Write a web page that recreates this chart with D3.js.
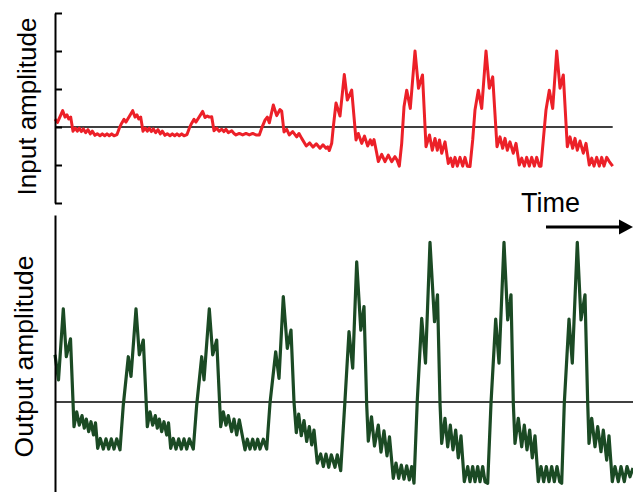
<!DOCTYPE html>
<html>
<head>
<meta charset="utf-8">
<script src="https://cdn.jsdelivr.net/npm/d3@7"></script>
<style>
  html, body { margin: 0; padding: 0; background: #fff; }
  svg { display: block; }
  text { font-family: "Liberation Sans", Arial, Helvetica, sans-serif; fill: #000; }
</style>
</head>
<body>
<svg id="chart" width="633" height="492"></svg>
<script>
// Input waveform: time (samples) and amplitude (a.u., 10 per tick)
const inputTime = [
  0, 2.5, 7.7, 10, 12, 13.7, 15.7, 18, 20.3, 22.3, 24.3, 26.3, 28.3, 30.7, 33, 35.3, 37.3, 40, 42.3, 45, 47.3, 49.7, 52, 54.3, 56.7, 59, 62,
  64.3, 66.7, 69, 71, 77.7, 80, 82, 83.7, 85.7, 88, 90.3, 92.3, 94.3, 96.3, 98.3, 100.7, 103, 105.3, 107.3, 110, 112.3, 115, 117.3, 119.7, 122, 124.3, 126.7, 129, 132,
  134.3, 136.7, 139, 141, 147.7, 150, 152.3, 154.3, 156.7, 159, 161.7, 164, 166.7, 169, 171, 173.3, 176.7, 179, 181, 184.3, 187.7, 191, 194.3, 197.7, 201, 204.3,
  206.7, 210, 212.3, 214.3, 218.3, 221.7, 225, 226.7, 229, 231.7, 234.3, 237.7, 241.7, 244, 246.7, 251.3, 254.7, 258, 261.3, 265, 268, 271, 272.7, 274.3,
  276.7, 278.3, 281, 285, 289.3, 292.3, 296.7, 301, 303.3, 306.7, 309.5, 312.7, 315.3, 317, 319, 321.5, 323.3, 326.7, 330, 333.3, 336.7, 340, 342, 344.3,
  346.7, 349, 351.7, 355.3, 360, 363.5, 367.5, 371, 374.5, 377.3, 380, 382.3, 384.5, 386.7, 390, 393.3, 395.7, 397.7, 400, 402.3, 405, 407.7, 410, 412.3, 415,
  417.7, 420, 423.3, 426.7, 431, 434.3, 437.7, 442, 445, 447.7, 450, 452.3, 455, 458.3, 461, 464.3, 466.7, 469.3, 471.7, 474.3, 476.7, 479.3, 481.7, 484.3, 486,
  488.3, 491, 494.3, 497.7, 501.7, 505, 508.3, 512.3, 515, 517.7, 520, 522.3, 525, 528.3, 531, 534.3, 536.7, 539, 541.7, 544.3, 546.7, 549, 551.7, 554.3, 557.7
];
const inputAmp = [
  2.1, 1.2, 4.3, 2.6, 3.2, 2.1, 2.6, -1.1, -0.3, -1.1, -0.3, -1.2, -0.5, -1.5, -0.7, -1.8, -1.1, -2.2, -1.8, -2.3, -1.8, -2.3, -1.8, -2.3, -1.8, -2.3, -2.0,
  -0.3, 1.0, 2.0, 1.3, 4.3, 2.6, 3.2, 2.1, 2.6, -1.1, -0.3, -1.1, -0.3, -1.2, -0.5, -1.5, -0.7, -1.8, -1.1, -2.2, -1.8, -2.3, -1.8, -2.3, -1.8, -2.3, -1.8, -2.3, -2.0,
  -0.3, 1.0, 2.0, 1.3, 4.1, 2.5, 2.9, 2.6, 2.7, -1.0, -0.3, -1.1, -0.6, -1.2, -0.6, -1.5, -1.0, -1.7, -2.1, -1.7, -2.1, -1.7, -2.1, -1.7, -2.1, -2.1,
  -0.3, 1.8, 2.6, 1.1, 5.8, 3.0, 4.6, 4.2, -1.3, -0.6, -2.1, -1.2, -2.6, -1.7, -3.0, -5.0, -4.2, -5.3, -4.4, -5.6, -4.7, -5.6, -5.2, -6.2,
  -4.3, 0, 6.3, 2.9, 13.8, 7.1, 9.7, -3.4, -1.7, -4.3, -2.4, -5.0, -3.4, -4.7, -3.3, -6.6, -9.1, -7.2, -9.1, -7.4, -9.1, -7.8, -8.7, -10.3,
  -4.3, 5.3, 9.7, 4.9, 20.0, 10.2, 13.7, -5.2, -2.1, -6.1, -3.0, -6.1, -3.4, -6.9, -3.9, -9.6, -8.2, -10.4, -8.0, -10.3, -8.0, -10.3, -8.0, -10.3, -10.4,
  -3.4, 4.5, 9.7, 4.9, 20.0, 10.2, 13.2, -5.2, -2.6, -5.6, -3.0, -6.1, -3.9, -6.9, -4.3, -10.0, -8.2, -10.3, -8.0, -10.3, -8.0, -10.3, -8.0, -10.3, -10.3,
  -3.4, 4.5, 9.7, 4.9, 20.0, 10.2, 13.7, -5.2, -2.6, -5.6, -3.0, -6.1, -3.7, -6.9, -4.3, -10.0, -8.2, -10.3, -8.0, -10.3, -8.0, -10.3, -8.0, -9.1, -10.3
];

// Output waveform: time (samples) and amplitude (same units)
const outputTime = [
  0, 3.5, 8.3, 11.3, 15.5, 19, 21.7, 24.3, 27, 29.3, 31.3, 33.7, 36, 38.5, 40.5, 42.7, 45.3, 48.3, 51, 53.7, 56.3, 59, 61.7, 65,
  68.3, 73.3, 76, 81, 84.3, 88.3, 92.3, 95, 97.7, 100.3, 102.3, 104.3, 106.7, 109, 111.7, 113.5, 115.7, 118.3, 121, 123.7, 126.3, 129, 131.7, 134.3, 138.3,
  141.7, 146.7, 149, 154.3, 157.7, 161.7, 165.7, 168.3, 171, 173.3, 176.7, 179, 181.7, 184.3, 190, 192.3, 195, 197.7, 200, 202.7, 205, 208.3, 211.7,
  215, 220.7, 224, 228.3, 232.3, 236, 239, 241.3, 243.7, 246.3, 249, 251.7, 254.3, 256.7, 259, 262.3, 265.7, 268.3, 271, 273.7, 276.3, 280, 282.3, 285.7,
  290, 294, 297.7, 301.7, 305.8, 309, 311.7, 313.3, 316.5, 319.5, 323.3, 326, 329, 332, 334.5, 338.3, 341, 343.7, 346.3, 349, 351.7, 354.3, 356.7, 359,
  362.3, 366.7, 370.5, 375, 379.5, 382.5, 385, 386.7, 390, 392.7, 395.3, 398, 400.7, 403.3, 406, 409.3, 412.7, 415, 417.7, 420, 422.7, 425, 427.7, 430, 432.7,
  436, 440.7, 444, 449, 452.7, 456, 458.3, 460, 463.3, 466.7, 469.3, 472, 474.7, 477.3, 480, 483.3, 486, 488.7, 491.3, 494, 496.7, 499.3, 502, 504.7, 506.7,
  509.3, 514, 517.3, 522.3, 526, 530, 532.7, 534, 536.7, 540, 542.7, 546, 548.3, 551.7, 554, 557.3, 560, 563.3, 566, 569.3, 572, 575, 578
];
const outputAmp = [
  12.4, 5.8, 24.5, 11.9, 16.6, -6.5, -2.6, -6.1, -3.6, -6.9, -4.5, -7.8, -5.2, -8.7, -5.5, -12.2, -9.6, -12.4, -9.7, -12.4, -9.7, -12.4, -9.7, -12.6,
  -0.8, 11.9, 6.7, 24.5, 12.4, 16.3, -6.5, -2.6, -6.1, -3.6, -6.9, -4.5, -7.8, -5.2, -8.7, -5.5, -12.2, -9.6, -12.4, -9.7, -12.4, -9.7, -12.4, -9.7, -12.4,
  -0.8, 11.9, 5.8, 24.5, 12.4, 16.3, -6.5, -2.6, -6.1, -3.6, -7.8, -4.5, -8.7, -4.7, -12.6, -9.8, -12.4, -9.8, -12.4, -9.8, -12.4, -9.8, -12.4,
  -0.3, 13.2, 6.2, 27.7, 14.1, 18.9, 0, -8.1, -3.2, -8.9, -4.9, -10.4, -6.5, -11.3, -7.4, -16.1, -13.7, -17.0, -13.7, -17.2, -13.9, -17.2, -13.9, -18.1,
  0.5, 18.5, 8.9, 36.9, 18.9, 25.1, -0.8, -10.3, -3.9, -11.6, -6.1, -13.2, -7.6, -14.2, -9.2, -20.1, -16.1, -20.1, -16.6, -20.3, -16.8, -20.5, -17.0, -21.4,
  0.5, 22.0, 10.2, 42.0, 21.1, 28.2, -0.3, -10.9, -4.3, -11.8, -6.1, -12.6, -7.4, -14.7, -8.9, -21.0, -17.0, -21.0, -17.0, -21.0, -17.0, -21.0, -17.0, -21.0, -21.4,
  -0.3, 21.8, 10.2, 42.0, 21.6, 28.2, -0.3, -10.9, -4.3, -11.8, -6.1, -12.6, -7.4, -14.7, -8.9, -21.0, -17.0, -21.0, -17.0, -21.0, -17.0, -21.0, -17.0, -21.0, -21.4,
  -0.3, 21.8, 10.2, 42.0, 21.6, 28.2, -0.3, -10.9, -4.3, -11.8, -6.5, -13.1, -7.4, -15.3, -8.9, -21.0, -17.0, -21.0, -17.0, -21.0, -17.0, -19.7, -17.4
];

// Tick values on the input amplitude axis
const inputTicks = [-20, -10, 0, 10, 20, 30];

const labels = { input: "Input amplitude", output: "Output amplitude", time: "Time" };

const svg = d3.select("#chart");

const x = d3.scaleLinear().domain([0, 578]).range([55, 633]);
const yIn = d3.scaleLinear().domain([-20, 30]).range([203, 13]);
const yOut = d3.scaleLinear().domain([-23.7, 49.2]).range([492, 215]);

const inputData = inputTime.map((t, i) => ({ t, a: inputAmp[i] }));
const outputData = outputTime.map((t, i) => ({ t, a: outputAmp[i] }));

// Zero reference lines
svg.append("line")
  .attr("x1", x(0)).attr("x2", x(d3.max(inputTime)))
  .attr("y1", yIn(0)).attr("y2", yIn(0))
  .attr("stroke", "#000").attr("stroke-width", 1.6);
svg.append("line")
  .attr("x1", x(0)).attr("x2", x(578))
  .attr("y1", yOut(0)).attr("y2", yOut(0))
  .attr("stroke", "#000").attr("stroke-width", 1.6);

// Waveforms
const lineIn = d3.line().x(d => x(d.t)).y(d => yIn(d.a));
const lineOut = d3.line().x(d => x(d.t)).y(d => yOut(d.a));

svg.append("path").datum(inputData)
  .attr("d", lineIn)
  .attr("fill", "none").attr("stroke", "#ec2028").attr("stroke-width", 3)
  .attr("stroke-linejoin", "round");

svg.append("path").datum(outputData)
  .attr("d", lineOut)
  .attr("fill", "none").attr("stroke", "#1b4a24").attr("stroke-width", 3.2)
  .attr("stroke-linejoin", "round");

// Vertical axes
const axisIn = d3.axisRight(yIn).tickValues(inputTicks).tickSize(7).tickSizeOuter(0).tickFormat("");
const gIn = svg.append("g").attr("transform", `translate(${x(0)},0)`).call(axisIn);
gIn.selectAll("path, line").attr("stroke", "#000").attr("stroke-width", 2);

const axisOut = d3.axisRight(yOut).tickValues([]).tickSizeOuter(0);
const gOut = svg.append("g").attr("transform", `translate(${x(0)},0)`).call(axisOut);
gOut.selectAll("path").attr("stroke", "#000").attr("stroke-width", 2);

// Axis titles
svg.append("text")
  .attr("transform", "translate(36,106.5) rotate(-90)")
  .attr("text-anchor", "middle")
  .style("font-size", "26px")
  .text(labels.input);

svg.append("text")
  .attr("transform", "translate(32.5,356.5) rotate(-90)")
  .attr("text-anchor", "middle")
  .style("font-size", "26.5px")
  .text(labels.output);

svg.append("text")
  .attr("x", 521).attr("y", 212)
  .style("font-size", "27px")
  .text(labels.time);

// Time arrow
svg.append("line")
  .attr("x1", 546).attr("x2", 621)
  .attr("y1", 227).attr("y2", 227)
  .attr("stroke", "#000").attr("stroke-width", 3);
svg.append("path")
  .attr("d", d3.line()([[619, 219.5], [633, 227], [619, 234.5]]) + "Z")
  .attr("fill", "#000");
</script>
</body>
</html>
